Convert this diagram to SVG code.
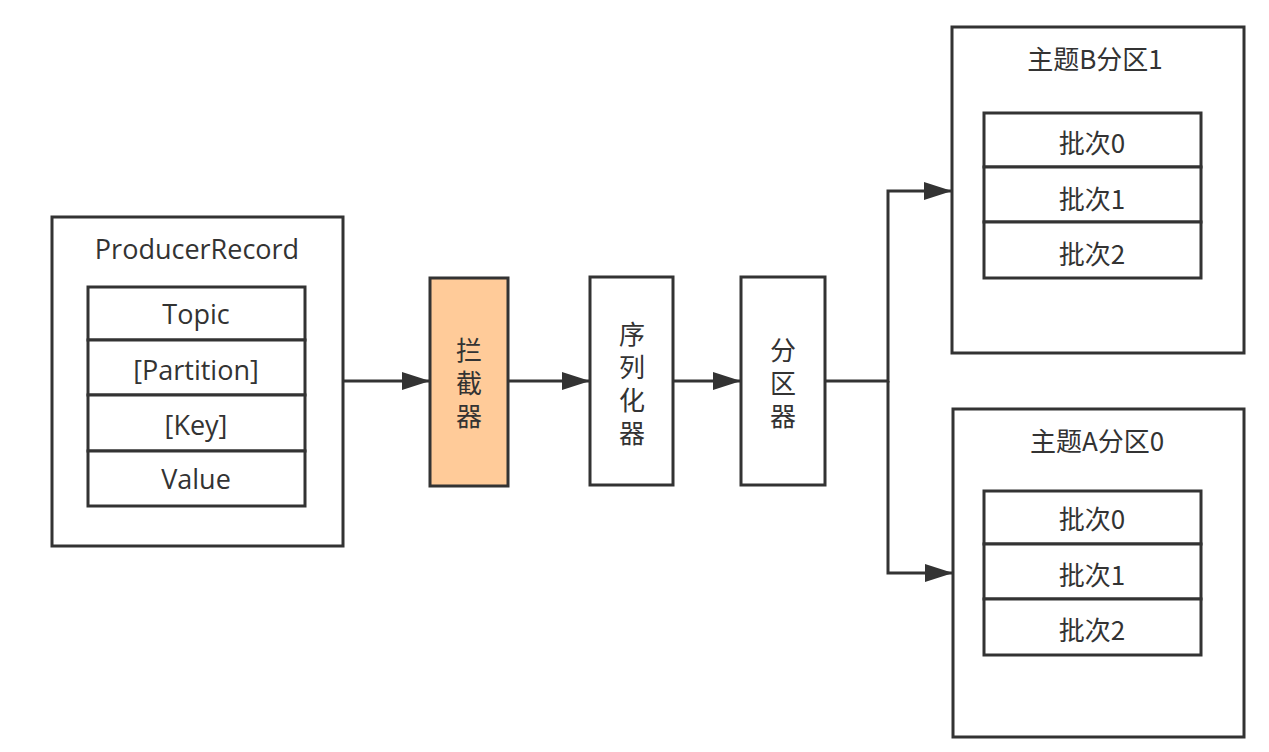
<svg xmlns="http://www.w3.org/2000/svg" width="1269" height="752" viewBox="0 0 1269 752">
<defs>
<marker id="arrow" markerUnits="userSpaceOnUse" markerWidth="28" markerHeight="18" refX="28" refY="9" orient="auto">
<path d="M0,0 L28,9 L0,18 z" fill="#333"/>
</marker>
<style>
.box{fill:#fff;stroke:#333;stroke-width:3}
.peach{fill:#FFCB99;stroke:#333;stroke-width:3}
.t{font-family:"Open Sans","Noto Sans CJK SC",sans-serif;font-size:27px;fill:#333;text-anchor:middle}
.c{font-family:"Noto Sans CJK SC","Open Sans",sans-serif;font-size:26px;fill:#333;text-anchor:middle}
.v{font-family:"Noto Sans CJK SC",sans-serif;font-size:26px;fill:#333;text-anchor:middle;writing-mode:vertical-rl;letter-spacing:7px}
.conn{fill:none;stroke:#333;stroke-width:3}
</style>
</defs>
<rect width="1269" height="752" fill="#fff"/>
<g id="producer-record">
<rect class="box" x="52" y="217" width="291" height="329"/>
<text class="t" x="197" y="259">ProducerRecord</text>
<rect class="box" x="88" y="287" width="217" height="53"/>
<rect class="box" x="88" y="340" width="217" height="55"/>
<rect class="box" x="88" y="395" width="217" height="56"/>
<rect class="box" x="88" y="451" width="217" height="55"/>
<text class="t" x="196" y="324">Topic</text>
<text class="t" x="196" y="380">[Partition]</text>
<text class="t" x="196" y="435">[Key]</text>
<text class="t" x="196" y="489">Value</text>
</g>
<g id="interceptor">
<rect class="peach" x="430" y="278" width="78" height="208"/>
<text class="v" x="469" y="387">拦截器</text>
</g>
<g id="serializer">
<rect class="box" x="590" y="277" width="83" height="208"/>
<text class="v" x="632" y="387">序列化器</text>
</g>
<g id="partitioner">
<rect class="box" x="741" y="277" width="84" height="208"/>
<text class="v" x="783" y="387">分区器</text>
</g>
<g id="topic-b-partition-1">
<rect class="box" x="952" y="27" width="292" height="326"/>
<text class="c" x="1095" y="69">主题B分区1</text>
<rect class="box" x="984" y="113" width="217" height="54"/>
<rect class="box" x="984" y="167" width="217" height="55"/>
<rect class="box" x="984" y="222" width="217" height="56"/>
<text class="c" x="1092" y="153">批次0</text>
<text class="c" x="1092" y="209">批次1</text>
<text class="c" x="1092" y="264">批次2</text>
</g>
<g id="topic-a-partition-0">
<rect class="box" x="953" y="409" width="291" height="328"/>
<text class="c" x="1097" y="451">主题A分区0</text>
<rect class="box" x="984" y="491" width="217" height="53"/>
<rect class="box" x="984" y="544" width="217" height="55"/>
<rect class="box" x="984" y="599" width="217" height="56"/>
<text class="c" x="1092" y="529">批次0</text>
<text class="c" x="1092" y="585">批次1</text>
<text class="c" x="1092" y="640">批次2</text>
</g>
<g id="connectors">
<path class="conn" d="M343,381 H430" marker-end="url(#arrow)"/>
<path class="conn" d="M508,381 H590" marker-end="url(#arrow)"/>
<path class="conn" d="M673,381 H741" marker-end="url(#arrow)"/>
<path class="conn" d="M825,381 H888 V191 H952" marker-end="url(#arrow)"/>
<path class="conn" d="M888,381 V573 H953" marker-end="url(#arrow)"/>
</g>
</svg>
